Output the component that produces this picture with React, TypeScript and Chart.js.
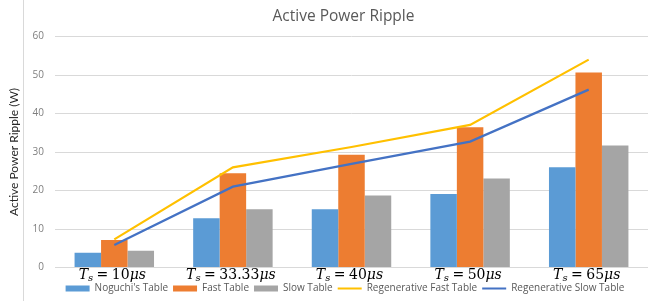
import React, { useEffect, useRef } from "react";
import { Chart, registerables } from "chart.js";

Chart.register(...registerables);

// ---- data ----
const tsValues = ["10", "33.33", "40", "50", "65"];
const categories = tsValues.map((v) => `Ts = ${v}μs`);
const noguchiTable = [3.85, 12.8, 15.1, 19.1, 26.05];
const fastTable = [7.15, 24.5, 29.3, 36.45, 50.65];
const slowTable = [4.37, 15.1, 18.7, 23.1, 31.7];
const regenFastTable = [7.3, 26.0, 31.3, 37.05, 54.0];
const regenSlowTable = [5.85, 21.0, 26.9, 32.7, 46.2];
const yTickValues = [0, 10, 20, 30, 40, 50, 60];
const chartTitle = "Active Power Ripple";
const yTitle = "Active Power Ripple (W)";

const C_BLUE = "#5B9BD5";
const C_ORANGE = "#ED7D31";
const C_GRAY = "#A5A5A5";
const C_YELLOW = "#FFC000";
const C_LBLUE = "#4472C4";

const decoPlugin = {
  id: "deco",
  beforeDraw(chart: any) {
    const ctx = chart.ctx;
    ctx.save();
    ctx.strokeStyle = "#D9D9D9";
    ctx.lineWidth = 1;
    ctx.beginPath();
    ctx.moveTo(23.5, 0);
    ctx.lineTo(23.5, chart.height);
    ctx.stroke();
    ctx.restore();
  },
  afterLayout(chart: any) {
    const lg = chart.legend;
    if (lg) {
      const dx = 21;
      lg.left += dx;
      lg.right += dx;
      const h = lg.bottom - lg.top;
      lg.top = 278.5;
      lg.bottom = lg.top + h;
    }
  },
  afterDraw(chart: any) {
    const ctx = chart.ctx;
    ctx.save();
    // title
    ctx.fillStyle = "#595959";
    ctx.font = '15.5px "Open Sans"';
    ctx.textAlign = "center";
    ctx.textBaseline = "middle";
    ctx.fillText(chartTitle, 343.5, 16.5);

    // math-style category labels
    const xs = chart.scales.x;
    const y = chart.chartArea.bottom + 8;
    ctx.fillStyle = "#000000";
    ctx.textAlign = "left";
    ctx.textBaseline = "middle";
    const F = '"DejaVu Serif"';
    tsValues.forEach((v, i) => {
      const parts: any[] = [
        { t: "T", f: `italic 14px ${F}`, dy: 0 },
        { t: "s", f: `italic 10px ${F}`, dy: 3 },
        { gap: 3.5 },
        { t: "=", f: `14px ${F}`, dy: 0 },
        { gap: 3.5 },
        { t: v, f: `14px ${F}`, dy: 0 },
        { t: "μs", f: `italic 14px ${F}`, dy: 0 },
      ];
      let total = 0;
      parts.forEach((p) => {
        if (p.gap) { p.w = p.gap; } else { ctx.font = p.f; p.w = ctx.measureText(p.t).width; }
        total += p.w;
      });
      let x = xs.getPixelForValue(i) - total / 2 - 2;
      parts.forEach((p) => {
        if (!p.gap) {
          ctx.font = p.f;
          ctx.fillText(p.t, x, y + p.dy);
        }
        x += p.w;
      });
    });
    ctx.restore();
  },
};

export default function App() {
  const ref = useRef<HTMLCanvasElement | null>(null);
  useEffect(() => {
    if (!ref.current) return;
    const chart = new Chart(ref.current, {
      type: "bar",
      data: {
        labels: categories,
        datasets: [
          { type: "bar", label: "Noguchi's Table", data: noguchiTable, backgroundColor: C_BLUE, borderWidth: 0, order: 1 },
          { type: "bar", label: "Fast Table", data: fastTable, backgroundColor: C_ORANGE, borderWidth: 0, order: 1 },
          { type: "bar", label: "Slow Table", data: slowTable, backgroundColor: C_GRAY, borderWidth: 0, order: 1 },
          { type: "line", label: "Regenerative Fast Table", data: regenFastTable, borderColor: C_YELLOW, backgroundColor: C_YELLOW, borderWidth: 2.2, pointRadius: 0, tension: 0, order: 0 },
          { type: "line", label: "Regenerative Slow Table", data: regenSlowTable, borderColor: C_LBLUE, backgroundColor: C_LBLUE, borderWidth: 2.2, pointRadius: 0, tension: 0, order: 0 },
        ] as any,
      },
      options: {
        responsive: false,
        animation: false,
        layout: { padding: { top: 36.5, left: 0, right: 0, bottom: 0 } },
        datasets: { bar: { categoryPercentage: 0.67, barPercentage: 1.0 } } as any,
        plugins: {
          title: { display: false },
          tooltip: { enabled: false },
          legend: {
            display: true,
            position: "bottom",
            labels: {
              usePointStyle: true,
              pointStyleWidth: 24,
              boxHeight: 6,
              padding: 5,
              color: "#595959",
              font: { family: "Open Sans", size: 10 },
              sort: (a: any, b: any) => a.datasetIndex - b.datasetIndex,
              generateLabels: (ch: any) => {
                const items = Chart.defaults.plugins.legend.labels.generateLabels(ch);
                return items.map((it: any) => {
                  const ds = ch.data.datasets[it.datasetIndex];
                  if (ds.type === "line") {
                    return { ...it, pointStyle: "line", lineWidth: 2.2, strokeStyle: ds.borderColor };
                  }
                  return { ...it, pointStyle: "rect", lineWidth: 0, fillStyle: ds.backgroundColor };
                });
              },
            },
          },
        },
        scales: {
          x: {
            type: "category",
            grid: { display: false },
            border: { display: false },
            ticks: { display: false },
            afterFit: (s: any) => { s.height = 8.5; },
          },
          y: {
            min: 0,
            max: 60,
            afterBuildTicks: (s: any) => { s.ticks = yTickValues.map((v) => ({ value: v })); },
            grid: { color: "#D9D9D9", lineWidth: 1, drawTicks: false },
            border: { display: false },
            ticks: { color: "#7F7F7F", font: { family: "Open Sans", size: 10 }, padding: 11 },
            title: {
              display: true,
              text: yTitle,
              color: "#262626",
              font: { family: "Lato", size: 12 },
              padding: { top: 7, bottom: 0 },
            },
            afterFit: (s: any) => { s.width = 55; },
          },
        },
      },
      plugins: [decoPlugin],
    } as any);
    return () => chart.destroy();
  }, []);
  return (
    <div style={{ position: "absolute", left: 0, top: 0, width: 648, height: 301, background: "#fff" }}>
      <canvas ref={ref} width={648} height={301} />
    </div>
  );
}
